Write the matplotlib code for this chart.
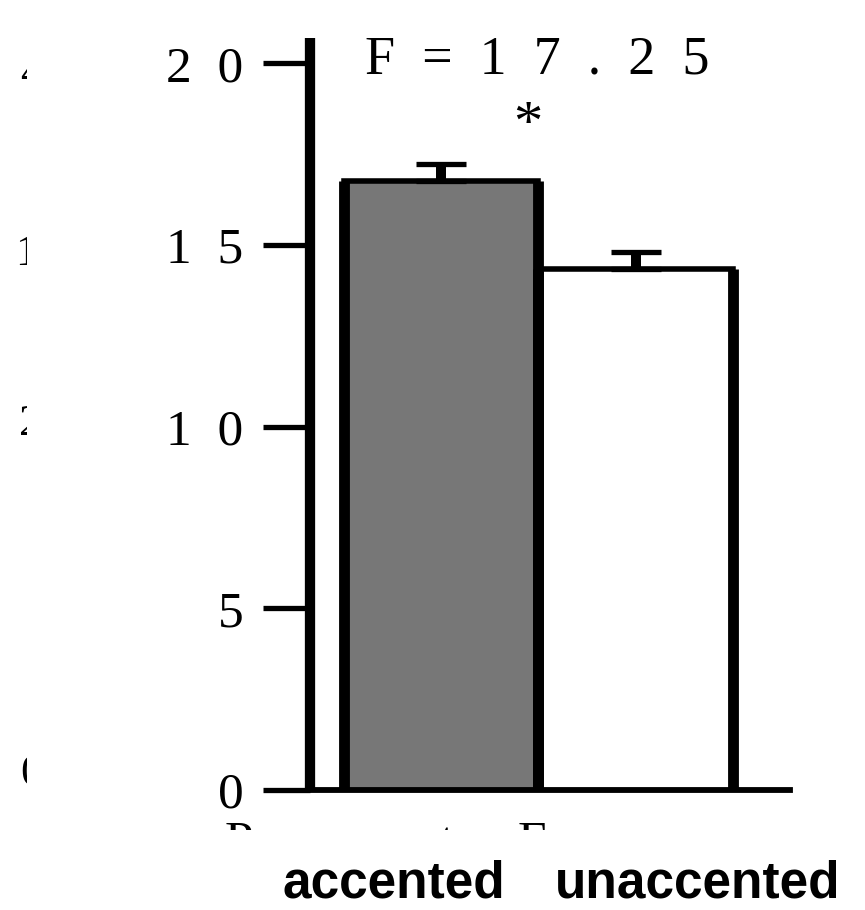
import matplotlib
matplotlib.use("Agg")
import matplotlib.pyplot as plt
from matplotlib.transforms import Bbox

# data
conds = ["accented", "unaccented"]
means = [16.77, 14.34]
errs = [0.47, 0.46]
colors = ["#777777", "#ffffff"]
yticks = [0, 5, 10, 15, 20]
ytick_labels = ["0", "5", "1  0", "1  5", "2  0"]
stat_text = "F  =  1  7  .  2  5"

W, H = 865, 910
fig = plt.figure(figsize=(W / 100, H / 100), dpi=100)
serif = "Liberation Serif"

ax = fig.add_axes([310 / W, 120 / H, 480 / W, 752 / H])
x = list(range(len(conds)))
ax.bar(x, means, width=1.0, color=colors, edgecolor="none", zorder=2)

# bar outlines: thick sides, thinner tops
for xi, m in zip(x, means):
    ax.vlines([xi - 0.5, xi + 0.5], 0, m, colors="k", lw=7.8, zorder=3)
    ax.hlines(m, xi - 0.5, xi + 0.5, colors="k", lw=4.0, zorder=3,
              capstyle="projecting")

ax.errorbar(x, means, yerr=[[0] * len(errs), errs], fmt="none", ecolor="k",
            elinewidth=7.2, capsize=18, capthick=3.8, zorder=4)

ax.set_xlim(-0.672, 1.79)
ax.set_ylim(0, 20.7)
ax.set_xticks([])
ax.set_yticks(yticks)
ax.set_yticklabels(ytick_labels, fontsize=37, family=serif)
ax.tick_params(axis="y", direction="out", length=34, width=3.8, pad=14)
for s in ["top", "right"]:
    ax.spines[s].set_visible(False)
ax.spines["left"].set_linewidth(7.4)
ax.spines["bottom"].set_linewidth(4.2)
ax.spines["left"].set_capstyle("butt")

fig.text(365 / W, 1 - 73 / H, stat_text, fontsize=39, family=serif,
         va="baseline", ha="left")
fig.text(528 / W, 1 - 140 / H, "*", fontsize=42, family=serif,
         va="baseline", ha="center")

# partly hidden axis title below the plot (only the tops show)
title_clip = Bbox.from_extents(0, H - 830, W, H)
for txt, px in [("P e r c e n t", 225), ("F", 518)]:
    t = fig.text(px / W, 1 - 856 / H, txt, fontsize=37, family=serif,
                 va="baseline", ha="left")
    t.set_clip_box(title_clip)
    t.set_clip_on(True)

# fragments of another chart's tick labels on the left edge
left_clip = Bbox.from_extents(0, 0, 27, H)
for txt, px, by in [("4", 20, 85), ("1", 15, 265), ("2", 19, 435), ("0", 20, 785)]:
    t = fig.text(px / W, 1 - by / H, txt, fontsize=32, family=serif,
                 va="baseline", ha="left")
    t.set_clip_box(left_clip)
    t.set_clip_on(True)

fig.text(283 / W, 1 - 898 / H, conds[0], fontsize=37,
         family="Liberation Sans", weight="bold", va="baseline", ha="left")
fig.text(555 / W, 1 - 898 / H, conds[1], fontsize=37,
         family="Liberation Sans", weight="bold", va="baseline", ha="left")

fig.savefig("out.png", dpi=100)
